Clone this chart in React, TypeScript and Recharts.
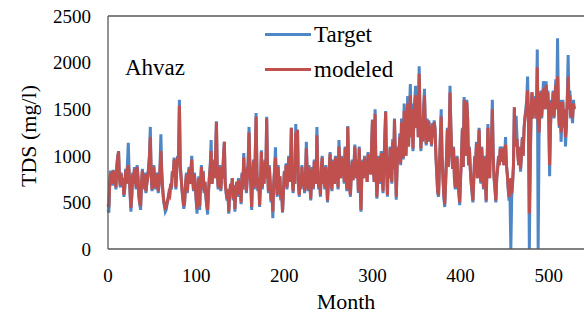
import React from "react"
import { LineChart, Line, XAxis, YAxis, ReferenceLine } from "recharts"

// monthly TDS, Ahvaz station (mg/l), months 0..529
const target = [
  420, 390, 720, 840, 760, 680, 850, 700, 780, 640,
  900, 1000, 1040, 760, 660, 820, 700, 760, 560, 640,
  860, 700, 900, 1140, 820, 600, 400, 560, 820, 700,
  880, 760, 640, 900, 780, 560, 480, 420, 700, 860,
  640, 760, 820, 600, 700, 760, 880, 1000, 1310, 800,
  620, 760, 900, 700, 640, 820, 760, 600, 700, 880,
  1230, 820, 640, 520, 460, 400, 420, 480, 520, 600,
  560, 700, 640, 840, 780, 980, 900, 640, 860, 1000,
  960, 1600, 900, 760, 620, 520, 430, 500, 700, 820,
  600, 760, 880, 700, 840, 1000, 760, 620, 820, 700,
  520, 380, 600, 780, 420, 700, 900, 640, 840, 600,
  720, 560, 460, 370, 600, 780, 900, 1170, 700, 820,
  960, 760, 1000, 1370, 820, 640, 700, 900, 620, 800,
  760, 1000, 1150, 700, 600, 520, 640, 380, 560, 700,
  600, 760, 520, 680, 400, 640, 720, 560, 760, 620,
  700, 480, 820, 640, 1030, 720, 880, 600, 760, 940,
  1310, 860, 700, 420, 780, 960, 640, 1000, 1460, 820,
  620, 760, 450, 700, 1060, 640, 820, 700, 960, 760,
  1420, 860, 600, 900, 720, 500, 640, 330, 700, 860,
  1090, 720, 560, 900, 640, 780, 520, 640, 390, 600,
  840, 700, 920, 640, 780, 1000, 720, 860, 1300, 760,
  600, 820, 700, 1340, 880, 1280, 700, 560, 800, 640,
  900, 700, 820, 600, 760, 1150, 840, 620, 900, 700,
  520, 760, 880, 640, 960, 820, 700, 1310, 860, 640,
  760, 560, 880, 1000, 700, 820, 640, 900, 740, 500,
  700, 880, 1040, 760, 620, 960, 840, 700, 1000, 760,
  880, 640, 1170, 900, 760, 1000, 820, 960, 700, 1100,
  860, 620, 1320, 900, 700, 560, 800, 960, 740, 880,
  1120, 900, 760, 960, 600, 1100, 700, 400, 820, 960,
  760, 1000, 860, 940, 720, 1040, 880, 1000, 800, 1100,
  1390, 900, 720, 1500, 860, 540, 760, 1000, 820, 700,
  1050, 860, 600, 900, 1200, 1480, 900, 560, 1000, 760,
  1100, 900, 700, 1180, 860, 1400, 1000, 530, 900, 1100,
  1000, 1240, 900, 1400, 1160, 960, 1560, 1200, 1000, 1300,
  1640, 1100, 1500, 1770, 1200, 1560, 1050, 1400, 1600, 1750,
  1300, 1560, 1200, 1960, 1450, 1050, 1400, 1150, 1500, 1720,
  1300, 1110, 1400, 1150, 1380, 1160, 1300, 1100, 1350, 1200,
  1380, 1300, 1000, 800, 600, 560, 900, 1200, 1500, 1000,
  760, 560, 450, 700, 1000, 1300, 880, 1200, 1750, 1300,
  1000, 860, 1100, 760, 640, 900, 1000, 700, 600, 470,
  760, 1000, 1300, 880, 1630, 1200, 1000, 1600, 1400, 900,
  1100, 860, 700, 600, 500, 760, 1000, 900, 1150, 760,
  1000, 1300, 900, 700, 1100, 860, 640, 1000, 760, 500,
  900, 1340, 1000, 760, 1200, 1100, 1600, 1000, 760, 640,
  500, 760, 860, 1000, 900, 1100, 1000, 940, 1100, 900,
  1000, 1200, 900, 800, 640, 520, 600, 0, 560, 700,
  900, 1520, 1100, 1430, 1200, 1000, 900, 1100, 830, 1000,
  1200, 1000, 1300, 1420, 1500, 1600, 1850, 1400, 0, 900,
  1500, 1680, 1400, 1600, 1500, 1640, 1400, 2140, 0, 1200,
  1500, 1700, 1400, 1600, 1800, 1680, 1500, 1800, 1600, 1700,
  1400, 780, 1300, 1600, 1500, 1700, 1400, 1600, 1820, 1500,
  2260, 1500, 1300, 1600, 1150, 1400, 1600, 1300, 1500, 1100,
  1300, 1600, 2080, 1500, 1700, 1400, 1500, 1350, 1600, 1500,
]

const modeled = [
  480, 450, 720, 820, 760, 700, 840, 700, 780, 660,
  880, 980, 1050, 760, 680, 800, 700, 760, 580, 660,
  840, 700, 860, 900, 820, 620, 440, 580, 800, 700,
  860, 760, 660, 880, 780, 580, 500, 460, 700, 840,
  660, 760, 800, 620, 700, 760, 860, 980, 1200, 800,
  640, 760, 880, 700, 660, 800, 760, 620, 700, 860,
  1050, 820, 660, 540, 480, 440, 450, 500, 540, 600,
  580, 700, 660, 820, 780, 960, 880, 660, 840, 980,
  940, 1540, 880, 760, 640, 540, 460, 520, 700, 800,
  620, 760, 860, 700, 820, 960, 760, 640, 800, 700,
  540, 430, 620, 760, 460, 700, 880, 660, 820, 620,
  720, 580, 480, 420, 620, 760, 880, 1050, 700, 820,
  940, 760, 980, 1360, 820, 660, 700, 880, 640, 800,
  760, 980, 1150, 700, 620, 540, 640, 400, 580, 700,
  620, 760, 540, 680, 430, 640, 720, 580, 740, 620,
  700, 500, 800, 640, 980, 720, 860, 620, 760, 920,
  1250, 840, 700, 450, 780, 940, 660, 980, 1420, 820,
  640, 760, 470, 700, 1040, 660, 800, 700, 940, 760,
  1400, 840, 620, 880, 720, 520, 640, 400, 700, 840,
  980, 720, 580, 880, 660, 780, 540, 640, 400, 620,
  820, 700, 900, 660, 780, 980, 720, 840, 1300, 760,
  620, 800, 700, 1250, 860, 1280, 700, 580, 780, 660,
  880, 700, 800, 620, 760, 1080, 820, 640, 880, 700,
  540, 760, 860, 660, 940, 820, 700, 1220, 840, 660,
  760, 580, 860, 980, 700, 800, 660, 880, 740, 520,
  700, 860, 1020, 760, 640, 940, 820, 700, 980, 760,
  860, 660, 1100, 880, 760, 980, 820, 940, 720, 1080,
  860, 640, 1310, 880, 700, 580, 800, 940, 740, 860,
  1100, 880, 760, 940, 620, 1080, 700, 420, 800, 940,
  760, 980, 840, 920, 720, 1020, 860, 980, 800, 1080,
  1380, 880, 720, 1450, 840, 560, 760, 980, 820, 720,
  1030, 840, 620, 880, 1180, 1470, 880, 580, 980, 760,
  1080, 880, 720, 1150, 860, 1390, 980, 560, 880, 1080,
  980, 1200, 920, 1360, 1140, 980, 1480, 1200, 1000, 1280,
  1560, 1100, 1460, 1650, 1200, 1500, 1080, 1380, 1560, 1650,
  1300, 1520, 1200, 1880, 1420, 1080, 1380, 1160, 1460, 1650,
  1300, 1130, 1380, 1160, 1360, 1180, 1300, 1120, 1330, 1200,
  1360, 1280, 1000, 800, 620, 580, 880, 1180, 1420, 1000,
  760, 580, 480, 700, 980, 1280, 880, 1180, 1680, 1300,
  1000, 860, 1080, 760, 660, 880, 980, 700, 620, 500,
  760, 980, 1280, 880, 1600, 1200, 1000, 1580, 1400, 900,
  1080, 860, 720, 620, 520, 760, 980, 900, 1130, 760,
  980, 1280, 900, 720, 1080, 860, 660, 980, 760, 520,
  880, 1300, 980, 760, 1180, 1100, 1500, 1000, 760, 660,
  520, 760, 860, 980, 900, 1080, 1000, 940, 1080, 900,
  980, 1120, 900, 800, 660, 560, 640, 760, 600, 720,
  900, 1520, 1100, 1150, 1180, 1000, 900, 1080, 860, 1000,
  1180, 1000, 1280, 1400, 1460, 1560, 1700, 1380, 380, 900,
  1480, 1680, 1400, 1580, 1500, 1620, 1400, 1950, 1350, 1250,
  1480, 1680, 1420, 1600, 1720, 1680, 1500, 1760, 1600, 1680,
  1420, 900, 1320, 1580, 1500, 1680, 1420, 1600, 1760, 1500,
  1850, 1500, 1320, 1580, 1250, 1400, 1580, 1320, 1500, 1200,
  1320, 1580, 1850, 1500, 1650, 1420, 1500, 1400, 1560, 1500,
]

const xTicks = [0, 100, 200, 300, 400, 500]
const yTicks = [0, 500, 1000, 1500, 2000, 2500]

const data = target.map((t, i) => ({ month: i, target: t, modeled: modeled[i] }))

const FONT = '"Liberation Serif", "Times New Roman", serif'
const AXIS = "#595959"
const BLUE = "#4f86c6"
const RED = "#c0504d"

function LegendBox() {
  const row = (color: string, text: string) => (
    <div style={{ display: "flex", alignItems: "center", height: 35 }}>
      <div style={{ width: 46, height: 3, background: color, marginRight: 3 }} />
      <span style={{ fontSize: 23, fontFamily: FONT, color: "#000", lineHeight: "35px" }}>{text}</span>
    </div>
  )
  return (
    <div style={{ position: "absolute", left: 265, top: 17 }}>
      {row(BLUE, "Target")}
      {row(RED, "modeled")}
    </div>
  )
}

export default function App() {
  return (
    <div style={{ position: "absolute", left: 0, top: 0, width: 584, height: 314, background: "#fff" }}>
      <LineChart width={584} height={314} data={data} margin={{ top: 16, right: 0, left: 0, bottom: 0 }}>
        <XAxis
          dataKey="month"
          type="number"
          domain={[0, 540]}
          ticks={xTicks}
          height={65}
          axisLine={{ stroke: AXIS, strokeWidth: 1.3 }}
          tickLine={false}
          tickSize={0}
          tickMargin={20}
          tick={{ fontSize: 19, fontFamily: FONT, fill: "#000" }}
          label={{
            content: () => (
              <text x={346} y={309} textAnchor="middle" fontSize={22} fontFamily={FONT} fill="#000">
                Month
              </text>
            ),
          }}
        />
        <YAxis
          domain={[0, 2500]}
          ticks={yTicks}
          width={108}
          axisLine={{ stroke: AXIS, strokeWidth: 1.3 }}
          tickLine={false}
          tickSize={0}
          tickMargin={17}
          tick={{ fontSize: 19, fontFamily: FONT, fill: "#000" }}
          label={{
            content: () => (
              <text
                x={36}
                y={136}
                transform="rotate(-90 36 136)"
                textAnchor="middle"
                fontSize={22}
                fontFamily={FONT}
                fill="#000"
              >
                TDS (mg/l)
              </text>
            ),
          }}
        />
        <ReferenceLine y={2500} stroke={AXIS} strokeWidth={1.3} />
        <Line
          type="linear"
          dataKey="target"
          stroke={BLUE}
          strokeWidth={3}
          dot={false}
          isAnimationActive={false}
        />
        <Line
          type="linear"
          dataKey="modeled"
          stroke={RED}
          strokeWidth={3}
          dot={false}
          isAnimationActive={false}
        />
      </LineChart>
      <LegendBox />
      <div style={{ position: "absolute", left: 125, top: 55, fontSize: 23, fontFamily: FONT, color: "#000" }}>
        Ahvaz
      </div>
    </div>
  )
}
